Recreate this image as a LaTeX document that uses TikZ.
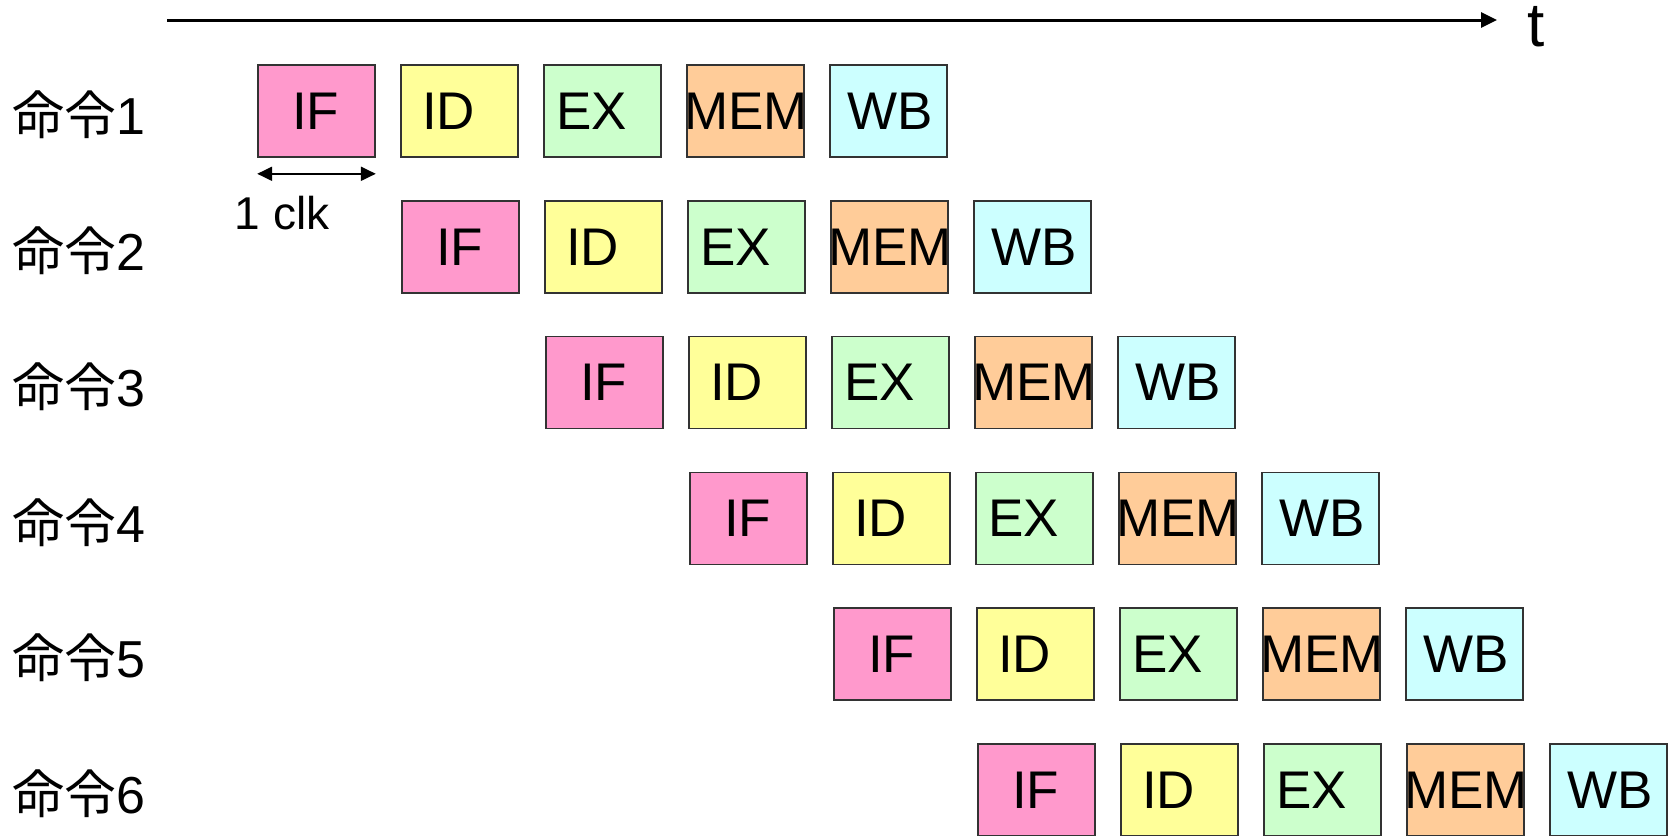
\documentclass[tikz,border=0pt]{standalone}
\usepackage{fontspec}
\setmainfont{Liberation Sans}
\newfontfamily\cjk{Noto Sans CJK JP}
\usetikzlibrary{arrows.meta, positioning}
\definecolor{cif}{HTML}{FF99CC}
\definecolor{cid}{HTML}{FFFF99}
\definecolor{cex}{HTML}{CCFFCC}
\definecolor{cmem}{HTML}{FFCC99}
\definecolor{cwb}{HTML}{CCFFFF}
\tikzset{
  stage/.style={draw=black!80, line width=0.8pt, minimum height=46pt, inner ysep=0pt,
    align=left, font=\fontsize{26.5}{28}\selectfont},
  ifbox/.style={stage, fill=cif, inner xsep=17pt, text width=24.5pt},
  idbox/.style={stage, fill=cid, inner xsep=10.5pt, text width=37.5pt},
  exbox/.style={stage, fill=cex, inner xsep=6pt, text width=46.5pt},
  membox/.style={stage, fill=cmem, inner xsep=-1.5pt, text width=61.5pt},
  wbbox/.style={stage, fill=cwb, inner xsep=8.5pt, text width=41.5pt},
  instr/.style={anchor=west, inner sep=0pt, font=\fontsize{26}{28}\selectfont}
}

\begin{document}
\begin{tikzpicture}[x=0.5pt, y=-0.5pt]
  \useasboundingbox (0,0) rectangle (1672,836);
  % time axis
  \coordinate (t0) at (167,20);
  \coordinate (t1) at (1497,20);
  \draw[line width=1.5pt, -{Triangle[length=8pt, width=7.5pt]}] (t0) -- (t1);
  \node[font=\fontsize{31}{33}\selectfont] (t) at (1536,27) {t};

  % instructions and pipeline stages
  \foreach \r in {1,...,6}{
    \pgfmathsetmacro{\rowy}{111+(\r-1)*135.8}
    \node[instr] (instr\r) at (12,\rowy+4) {{\cjk 命令}\r};
    \foreach \s/\lab/\sty in {0/IF/ifbox, 1/ID/idbox, 2/EX/exbox, 3/MEM/membox, 4/WB/wbbox}{
      \pgfmathsetmacro{\boxx}{316.5+(\r-1)*144+\s*143}
      \node[\sty] (\lab\r) at (\boxx,\rowy) {\lab};
    }
  }

  % one clock
  \draw[line width=1pt, {Triangle[length=7.5pt, width=7pt]}-{Triangle[length=7.5pt, width=7pt]}]
    ([yshift=-8pt]IF1.south west) -- ([yshift=-8pt]IF1.south east);
  \node[font=\fontsize{23}{25}\selectfont] (clk) at (282,213) {1 clk};
\end{tikzpicture}
\end{document}
